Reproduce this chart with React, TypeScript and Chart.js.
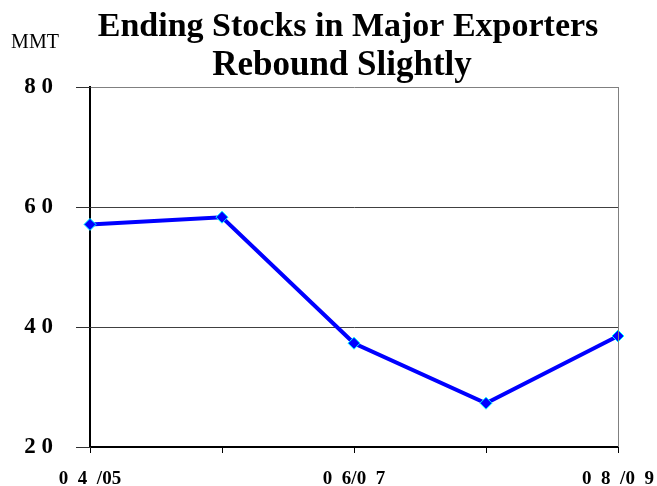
import React, { useEffect, useRef } from "react";
import { Chart, registerables } from "chart.js";

Chart.register(...registerables);

const categories = ["0  4  /05", "", "0  6/0  7", "", "0  8  /0  9"];
const endingStocks = [57.1, 58.3, 37.3, 27.3, 38.5];
const yTicks = [20, 40, 60, 80];
const titleLines = ["Ending Stocks in Major Exporters", "Rebound Slightly"];
const unitLabel = "MMT";

const SERIF = '"Liberation Serif", "Times New Roman", serif';

const zeroPadding = (scale: any) => {
  scale.paddingLeft = 0;
  scale.paddingRight = 0;
  scale.paddingTop = 0;
  scale.paddingBottom = 0;
};

const decorPlugin = {
  id: "decor",
  afterDraw(chart: any) {
    const { ctx, chartArea } = chart;
    const yScale = chart.scales.y;
    ctx.save();
    // right frame
    ctx.strokeStyle = "#808080";
    ctx.lineWidth = 1;
    ctx.beginPath();
    ctx.moveTo(chartArea.right + 0.5, chartArea.top);
    ctx.lineTo(chartArea.right + 0.5, chartArea.bottom);
    ctx.stroke();
    // y tick marks outside the axis
    ctx.strokeStyle = "#303030";
    ctx.lineWidth = 1;
    for (const v of yTicks) {
      const y = Math.round(yScale.getPixelForValue(v)) + 0.5;
      ctx.beginPath();
      ctx.moveTo(chartArea.left - 14, y);
      ctx.lineTo(chartArea.left + 1, y);
      ctx.stroke();
    }
    // title
    ctx.fillStyle = "#000";
    ctx.textAlign = "center";
    ctx.textBaseline = "alphabetic";
    ctx.font = `bold 34px ${SERIF}`;
    ctx.fillText(titleLines[0], 348, 36);
    ctx.font = `bold 35px ${SERIF}`;
    ctx.fillText(titleLines[1], 342, 75);
    ctx.font = `20px ${SERIF}`;
    ctx.fillText(unitLabel, 35, 48);
    ctx.restore();
  },
};

export default function App() {
  const ref = useRef<HTMLCanvasElement>(null);
  useEffect(() => {
    document.body.style.margin = "0";
    const chart = new Chart(ref.current!, {
      type: "line",
      data: {
        labels: categories,
        datasets: [
          {
            data: endingStocks,
            borderColor: "#0000FF",
            borderWidth: 4,
            backgroundColor: "#0000FF",
            pointStyle: "rectRot",
            pointRadius: 6,
            pointBackgroundColor: "#0000FF",
            pointBorderColor: "#00FFFF",
            pointBorderWidth: 1,
            tension: 0,
            clip: false as any,
          },
        ],
      },
      options: {
        animation: false,
        responsive: false,
        layout: { padding: { top: 87, right: 39, left: 0, bottom: 0 } },
        plugins: {
          legend: { display: false },
          tooltip: { enabled: false },
          title: { display: false },
        },
        scales: {
          x: {
            type: "category",
            offset: false,
            afterFit(scale: any) {
              scale.height = 39;
              zeroPadding(scale);
            },
            grid: {
              drawOnChartArea: false,
              drawTicks: true,
              tickLength: 6,
              color: "#000",
            },
            border: { color: "#000", width: 2 },
            ticks: {
              autoSkip: false,
              maxRotation: 0,
              padding: 15,
              color: "#000",
              font: { family: SERIF, size: 19, weight: "bold" },
            },
          },
          y: {
            min: 20,
            max: 80,
            afterFit(scale: any) {
              scale.width = 90;
              zeroPadding(scale);
            },
            afterBuildTicks(scale: any) {
              scale.ticks = yTicks.map((v) => ({ value: v }));
            },
            grid: {
              color: (c: any) => (c.tick && c.tick.value === 80 ? "#808080" : "#404040"),
              lineWidth: 1,
              drawTicks: false,
            },
            border: { color: "#000", width: 2 },
            ticks: {
              padding: 37,
              color: "#000",
              font: { family: SERIF, size: 23, weight: "bold" },
              callback: (v: any) => String(v).split("").join(" "),
            },
          },
        },
      },
      plugins: [decorPlugin],
    });
    return () => chart.destroy();
  }, []);
  return <canvas ref={ref} width={657} height={486} style={{ display: "block" }} />;
}
